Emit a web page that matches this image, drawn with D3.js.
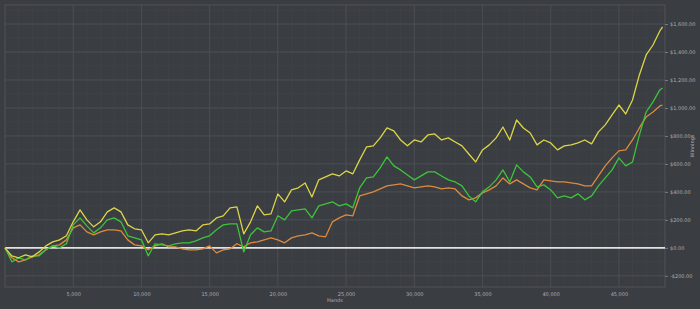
<!DOCTYPE html>
<meta charset="utf-8">
<script src="https://d3js.org/d3.v7.min.js"></script>
<style>
  body { margin: 0; background: #3a3d41; }
  text { font-family: "DejaVu Sans", sans-serif; }
</style>
<body>
<div id="chart"></div>
<script>

// hands played at each sample
const hands = [
  0, 500, 1000, 1500, 2000, 2500, 3000, 3500, 4000, 4500,
  5000, 5500, 6000, 6500, 7000, 7500, 8000, 8500, 9000, 9500,
  10000, 10500, 11000, 11500, 12000, 12500, 13000, 13500, 14000, 14500,
  15000, 15500, 16000, 16500, 17000, 17500, 18000, 18500, 19000, 19500,
  20000, 20500, 21000, 21500, 22000, 22500, 23000, 23500, 24000, 24500,
  25000, 25500, 26000, 26500, 27000, 27500, 28000, 28500, 29000, 29500,
  30000, 30500, 31000, 31500, 32000, 32500, 33000, 33500, 34000, 34500,
  35000, 35500, 36000, 36500, 37000, 37500, 38000, 38500, 39000, 39500,
  40000, 40500, 41000, 41500, 42000, 42500, 43000, 43500, 44000, 44500,
  45000, 45500, 46000, 46500, 47000, 47500, 48000, 48200
];

// winnings ($) per series
const yellowWin = [
  0, -57, -71, -50, -64, -29, 14, 43, 57, 86,
  186, 271, 200, 150, 186, 257, 286, 257, 164, 136,
  129, 36, 93, 100, 93, 107, 121, 129, 121, 164,
  171, 214, 229, 286, 293, 100, 186, 300, 236, 243,
  386, 329, 414, 429, 464, 364, 486, 507, 529, 514,
  550, 529, 629, 721, 729, 786, 857, 836, 771, 729,
  771, 757, 807, 814, 771, 786, 757, 729, 671, 614,
  700, 736, 786, 864, 771, 914, 857, 821, 736, 771,
  750, 700, 729, 736, 750, 771, 743, 829, 879, 950,
  1021, 957, 1057, 1236, 1379, 1450, 1550, 1580
];

const greenWin = [
  0, -100, -71, -86, -57, -57, -14, 14, 0, 29,
  164, 214, 157, 107, 143, 200, 214, 186, 86, 71,
  57, -57, 29, 21, 14, 29, 36, 36, 50, 71,
  86, 129, 164, 171, 171, -29, 93, 143, 114, 121,
  229, 200, 264, 271, 279, 214, 300, 314, 329, 300,
  314, 286, 429, 500, 507, 571, 650, 586, 557, 521,
  486, 514, 543, 543, 514, 486, 471, 443, 371, 329,
  400, 436, 486, 557, 471, 593, 543, 507, 436, 450,
  414, 357, 371, 357, 386, 343, 371, 443, 500, 557,
  643, 586, 614, 807, 971, 1043, 1129, 1143
];

const orangeWin = [
  0, -71, -100, -86, -64, -50, -14, 14, 21, 57,
  143, 164, 114, 93, 114, 129, 129, 121, 57, 21,
  14, -14, 14, 29, 7, 7, -7, -14, -14, -7,
  14, -36, -14, -7, 29, 7, 36, 43, 57, 71,
  57, 36, 71, 86, 93, 107, 86, 79, 186, 214,
  236, 229, 371, 386, 400, 421, 443, 450, 457, 443,
  429, 436, 443, 436, 421, 429, 421, 371, 343, 357,
  393, 414, 443, 500, 457, 486, 457, 429, 414, 486,
  479, 471, 471, 464, 457, 443, 443, 514, 586, 643,
  693, 700, 771, 857, 936, 971, 1014, 1020
];

const xTicks = [5000, 10000, 15000, 20000, 25000, 30000, 35000, 40000, 45000];
const yTicks = [-200, 0, 200, 400, 600, 800, 1000, 1200, 1400, 1600];

const series = [
  {name: "orange", values: orangeWin, color: "#dd8a3e"},
  {name: "green", values: greenWin, color: "#3cc43a"},
  {name: "yellow", values: yellowWin, color: "#dcd548"}
];

const W = 700, H = 309;
const plotL = 5, plotR = 665, plotT = 5, plotB = 287;

const svg = d3.select("#chart").append("svg")
  .attr("width", W)
  .attr("height", H);

const x = d3.scaleLinear().domain([0, 48380]).range([plotL, plotR]);
const y = d3.scaleLinear().domain([-280, 1736]).range([plotB, plotT]);

// minor grid
svg.append("g")
  .selectAll("line")
  .data(d3.range(1000, 48380, 1000))
  .join("line")
    .attr("x1", d => x(d)).attr("x2", d => x(d))
    .attr("y1", plotT).attr("y2", plotB)
    .attr("stroke", "#3f4246").attr("stroke-width", 1);
svg.append("g")
  .selectAll("line")
  .data(d3.range(-200, 1736, 100))
  .join("line")
    .attr("x1", plotL).attr("x2", plotR)
    .attr("y1", d => y(d)).attr("y2", d => y(d))
    .attr("stroke", "#3f4246").attr("stroke-width", 1);

// major grid
svg.append("g")
  .selectAll("line")
  .data(xTicks)
  .join("line")
    .attr("x1", d => x(d)).attr("x2", d => x(d))
    .attr("y1", plotT).attr("y2", plotB)
    .attr("stroke", "#4b4e52").attr("stroke-width", 1);
svg.append("g")
  .selectAll("line")
  .data(yTicks)
  .join("line")
    .attr("x1", plotL).attr("x2", plotR)
    .attr("y1", d => y(d)).attr("y2", d => y(d))
    .attr("stroke", "#4b4e52").attr("stroke-width", 1);

// frame
svg.append("rect")
  .attr("x", plotL).attr("y", plotT)
  .attr("width", plotR - plotL).attr("height", plotB - plotT)
  .attr("fill", "none").attr("stroke", "#505357");

// axes
const fmt = d3.format(",.2f");
const yAxis = d3.axisRight(y)
  .tickValues(yTicks)
  .tickSize(3)
  .tickPadding(2)
  .tickFormat(d => (d < 0 ? "-$" : "$") + fmt(Math.abs(d)));
const yg = svg.append("g")
  .attr("transform", `translate(${plotR},0)`)
  .call(yAxis);

const xAxis = d3.axisBottom(x)
  .tickValues(xTicks)
  .tickSize(0)
  .tickPadding(5)
  .tickFormat(d3.format(","));
const xg = svg.append("g")
  .attr("transform", `translate(0,${plotB})`)
  .call(xAxis);

[yg, xg].forEach(g => {
  g.select(".domain").remove();
  g.selectAll("line").attr("stroke", "#7a7d80");
  g.selectAll("text")
    .attr("fill", "#aeb0b2")
    .style("font-size", "5px");
});

svg.append("text")
  .attr("x", 335).attr("y", 302)
  .attr("text-anchor", "middle")
  .attr("fill", "#aeb0b2")
  .style("font-size", "5px")
  .text("Hands");

svg.append("text")
  .attr("transform", "translate(694,146) rotate(-90)")
  .attr("text-anchor", "middle")
  .attr("fill", "#aeb0b2")
  .style("font-size", "5px")
  .text("Winnings");

// zero line
svg.append("line")
  .attr("x1", plotL).attr("x2", plotR)
  .attr("y1", y(0)).attr("y2", y(0))
  .attr("stroke", "#e2e2e2").attr("stroke-width", 1.6);

// series lines
const line = d3.line()
  .x((d, i) => x(hands[i]))
  .y(d => y(d));

svg.append("g")
  .selectAll("path")
  .data(series)
  .join("path")
    .attr("d", d => line(d.values))
    .attr("fill", "none")
    .attr("stroke", d => d.color)
    .attr("stroke-width", 1.3)
    .attr("stroke-linejoin", "round");

</script>
</body>
